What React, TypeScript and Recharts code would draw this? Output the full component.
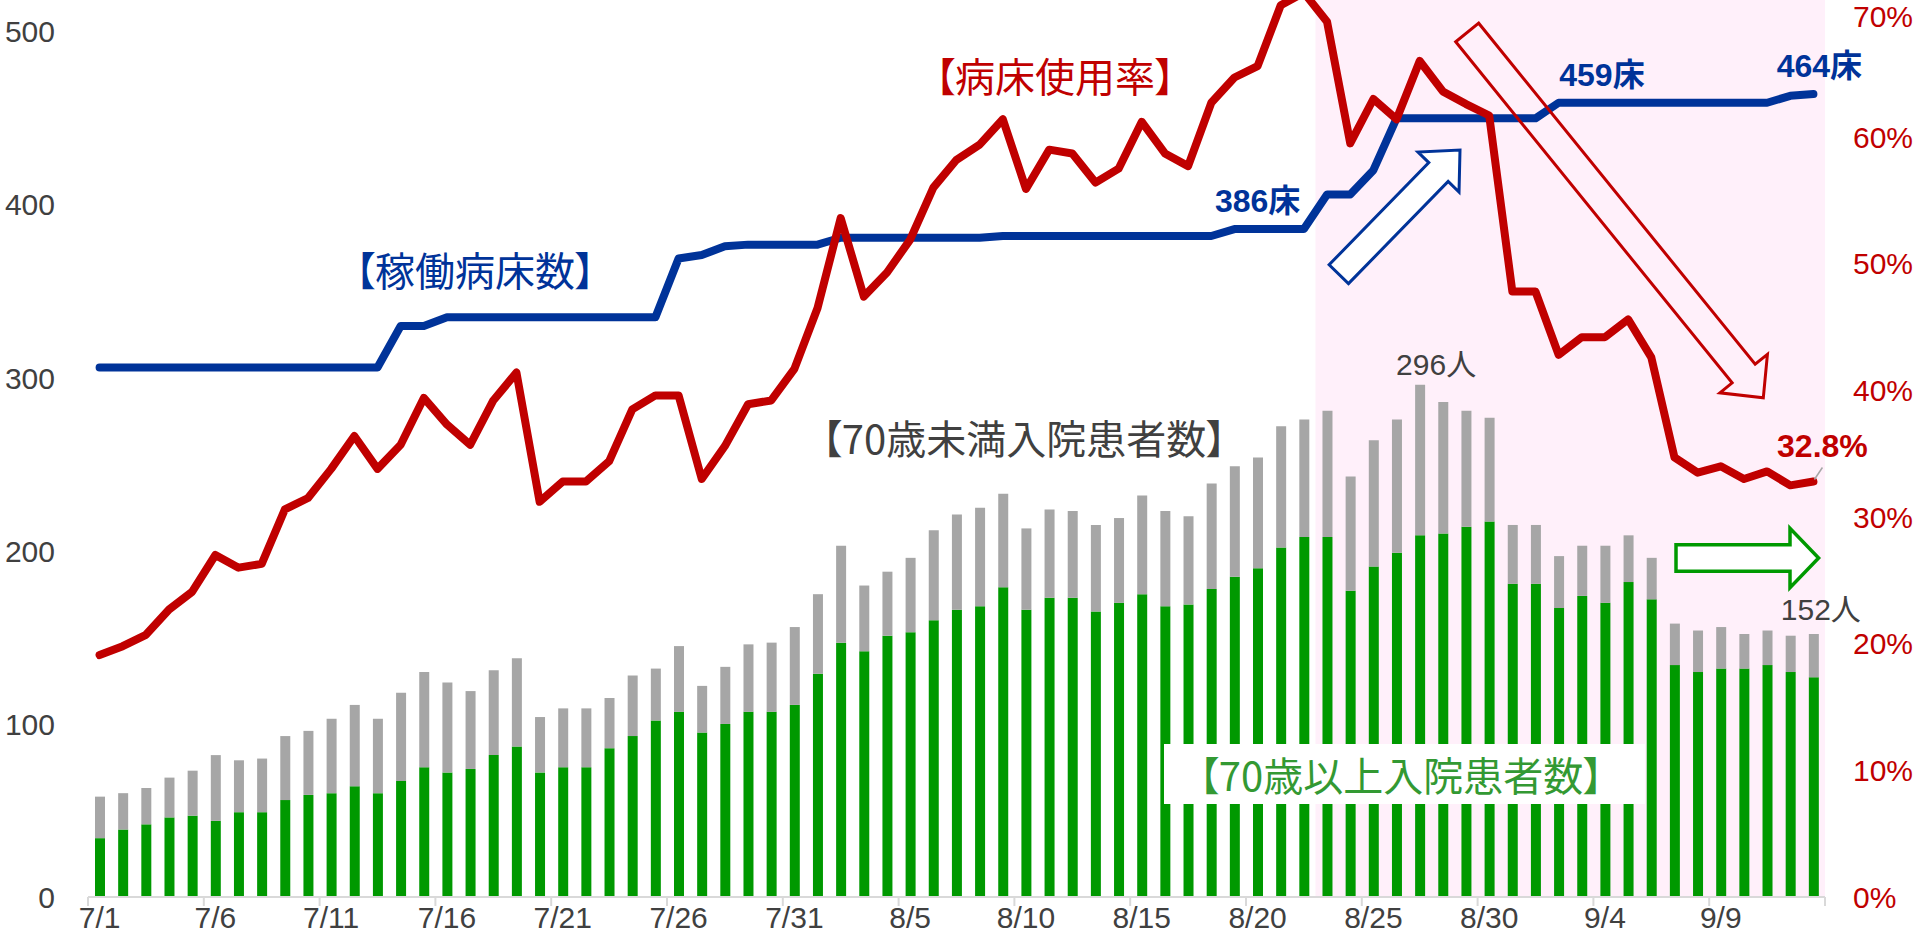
import React from 'react';
import { ComposedChart, Bar, Line, XAxis, YAxis, ReferenceArea, LabelList } from 'recharts';

// ---------- data ----------
const dates = [
  '7/1','7/2','7/3','7/4','7/5','7/6','7/7','7/8','7/9','7/10','7/11','7/12','7/13','7/14','7/15','7/16',
  '7/17','7/18','7/19','7/20','7/21','7/22','7/23','7/24','7/25','7/26','7/27','7/28','7/29','7/30','7/31',
  '8/1','8/2','8/3','8/4','8/5','8/6','8/7','8/8','8/9','8/10','8/11','8/12','8/13','8/14','8/15','8/16',
  '8/17','8/18','8/19','8/20','8/21','8/22','8/23','8/24','8/25','8/26','8/27','8/28','8/29','8/30','8/31',
  '9/1','9/2','9/3','9/4','9/5','9/6','9/7','9/8','9/9','9/10','9/11','9/12','9/13',
];

// 70歳以上入院患者数 (green)
const over70 = [
  34, 39, 42, 46, 47, 44, 49, 49, 56, 59, 60, 64, 60, 67, 75, 72,
  74, 82, 87, 72, 75, 75, 86, 93, 102, 107, 95, 100, 107, 107, 111,
  129, 147, 142, 151, 153, 160, 166, 168, 179, 166, 173, 173, 165, 170, 175, 168,
  169, 178, 185, 190, 202, 208, 208, 177, 191, 199, 209, 210, 214, 217, 181,
  181, 167, 174, 170, 182, 172, 134, 130, 132, 132, 134, 130, 127,
];

// 70歳未満入院患者数 (gray)
const under70 = [
  24, 21, 21, 23, 26, 38, 30, 31, 37, 37, 43, 47, 43, 51, 55, 52,
  45, 49, 51, 32, 34, 34, 29, 35, 30, 38, 27, 33, 39, 40, 45,
  46, 56, 38, 37, 43, 52, 55, 57, 54, 47, 51, 50, 50, 49, 57, 55,
  51, 61, 64, 64, 70, 68, 73, 66, 73, 77, 87, 76, 67, 60, 34,
  34, 30, 29, 33, 27, 24, 24, 24, 24, 20, 20, 21, 25,
];

// 稼働病床数 (blue, left axis)
const beds = [
  306, 306, 306, 306, 306, 306, 306, 306, 306, 306, 306, 306, 306, 330, 330, 335,
  335, 335, 335, 335, 335, 335, 335, 335, 335, 369, 371, 376, 377, 377, 377,
  377, 381, 381, 381, 381, 381, 381, 381, 382, 382, 382, 382, 382, 382, 382, 382,
  382, 382, 386, 386, 386, 386, 406, 406, 420, 450, 450, 450, 450, 450, 450,
  450, 459, 459, 459, 459, 459, 459, 459, 459, 459, 459, 463, 464,
];

// 病床使用率 (red, right axis, %)
const usageRate = [
  19.1, 19.8, 20.7, 22.7, 24.1, 27.0, 26.0, 26.3, 30.6, 31.5, 33.8, 36.4, 33.8, 35.7, 39.4, 37.3,
  35.7, 39.2, 41.4, 31.2, 32.8, 32.8, 34.4, 38.5, 39.6, 39.6, 33.0, 35.6, 38.9, 39.2, 41.7,
  46.5, 53.6, 47.4, 49.3, 51.9, 56.0, 58.2, 59.4, 61.4, 55.9, 59.0, 58.7, 56.4, 57.5, 61.2, 58.7,
  57.7, 62.7, 64.7, 65.6, 70.4, 71.4, 69.1, 59.5, 63.0, 61.4, 66.0, 63.6, 62.6, 61.7, 47.8,
  47.8, 42.8, 44.2, 44.2, 45.6, 42.6, 34.7, 33.5, 34.0, 33.0, 33.6, 32.5, 32.8,
];

const leftTicks = [0, 100, 200, 300, 400, 500];
const rightTicks = [0, 10, 20, 30, 40, 50, 60, 70];

const highlightStart = '8/23';
const highlightEnd = '9/13';

const labelBedsCat = ['8/20', '9/4', '9/13'];
const labelRateCat = ['9/13'];
const labelTotalCat = ['8/27', '9/13'];

// ---------- layout ----------
const W = 1920;
const H = 1000;
const TOP = -53;
const LEFT_W = 88;
const RIGHT_W = 95;
const XAXIS_H = 50;
const BAND = (W - LEFT_W - RIGHT_W) / dates.length;

const BLUE = '#003399';
const RED = '#c00000';
const GREEN = '#009900';
const GRAY = '#a6a6a6';
const TXT = '#404040';

const latin = '"Liberation Sans", Arial, "Noto Sans CJK JP", sans-serif';
const jp = '"Noto Sans CJK JP", "Noto Sans CJK SC", sans-serif';

const data = dates.map((d, i) => ({
  d,
  over70: over70[i],
  under70: under70[i],
  beds: beds[i],
  rate: usageRate[i],
}));

function XTick(props: any) {
  const { x, y, payload } = props;
  const left = x - BAND / 2;
  const isLast = payload.value === dates[70];
  return (
    <g>
      <line x1={left} y1={y} x2={left} y2={y + 9} stroke="#d9d9d9" strokeWidth={2} />
      {isLast && (
        <line x1={x + BAND * 4.5} y1={y} x2={x + BAND * 4.5} y2={y + 9} stroke="#d9d9d9" strokeWidth={2} />
      )}
      <text x={x} y={y + 31} textAnchor="middle" fontSize={30} fill={TXT} fontFamily={latin}>
        {payload.value}
      </text>
    </g>
  );
}

// right-axis tick: keep the topmost label inside the visible page (the chart top is off-screen)
function RightTick(props: any) {
  const { x, y, payload } = props;
  const minY = -TOP + 16;
  const cy = Math.max(Number(y), minY);
  return (
    <text x={x} y={cy} textAnchor="start" dominantBaseline="central" fontSize={30} fill={RED} fontFamily={latin}>
      {`${payload.value}%`}
    </text>
  );
}

function px(props: any) {
  const x = props.x ?? props.viewBox?.x ?? 0;
  const y = props.y ?? props.viewBox?.y ?? 0;
  return { x: Number(x), y: Number(y) };
}

const bedOffsets: Record<string, number> = { '8/20': 0, '9/4': -3, '9/13': 6 };

function BedLabel(props: any) {
  const { index, value } = props;
  const cat = dates[index];
  if (!labelBedsCat.includes(cat)) return <g />;
  const { x, y } = px(props);
  return (
    <text
      x={x + bedOffsets[cat]}
      y={y - 28}
      textAnchor="middle"
      dominantBaseline="central"
      fontSize={32}
      fontWeight="bold"
      fill={BLUE}
      fontFamily={latin}
    >
      {value}床
    </text>
  );
}

function RateLabel(props: any) {
  const { index, value } = props;
  const cat = dates[index];
  if (!labelRateCat.includes(cat)) return <g />;
  const { x, y } = px(props);
  return (
    <g>
      <line x1={x + 9} y1={y - 14} x2={x + 1} y2={y - 2} stroke="#a6a6a6" strokeWidth={1.5} />
      <text
        x={x + 9}
        y={y - 36}
        textAnchor="middle"
        dominantBaseline="central"
        fontSize={32}
        fontWeight="bold"
        fill={RED}
        fontFamily={latin}
      >
        {Number(value).toFixed(1)}%
      </text>
    </g>
  );
}

const totalOffsets: Record<string, [number, number]> = { '8/27': [16, -20], '9/13': [7, -24] };

function TotalLabel(props: any) {
  const { index } = props;
  const cat = dates[index];
  if (!labelTotalCat.includes(cat)) return <g />;
  const x = Number(props.x ?? props.viewBox?.x ?? 0);
  const y = Number(props.y ?? props.viewBox?.y ?? 0);
  const w = Number(props.width ?? props.viewBox?.width ?? 0);
  const total = over70[index] + under70[index];
  const [dx, dy] = totalOffsets[cat];
  return (
    <text
      x={x + w / 2 + dx}
      y={y + dy}
      textAnchor="middle"
      dominantBaseline="central"
      fontSize={30}
      fill={TXT}
      fontFamily={latin}
    >
      {total}人
    </text>
  );
}

function arrow(
  tail: [number, number],
  tip: [number, number],
  shaftHalf: number,
  headHalf: number,
  headLen: number,
) {
  const dx = tip[0] - tail[0];
  const dy = tip[1] - tail[1];
  const len = Math.hypot(dx, dy);
  const ux = dx / len;
  const uy = dy / len;
  const nx = -uy;
  const ny = ux;
  const b = len - headLen;
  const p = (a: number, n: number) => `${tail[0] + ux * a + nx * n},${tail[1] + uy * a + ny * n}`;
  return [p(0, shaftHalf), p(b, shaftHalf), p(b, headHalf), p(len, 0), p(b, -headHalf), p(b, -shaftHalf), p(0, -shaftHalf)].join(' ');
}

function Overlay() {
  const jpStyle: React.CSSProperties = { fontFeatureSettings: '"palt"' };
  return (
    <svg
      width={W}
      height={949}
      style={{ position: 'absolute', left: 0, top: 0, pointerEvents: 'none' }}
    >
      <text x={475} y={269} textAnchor="middle" dominantBaseline="central" fontSize={40} fill={BLUE} fontFamily={jp} style={jpStyle}>
        【稼働病床数】
      </text>
      <text x={1055} y={75} textAnchor="middle" dominantBaseline="central" fontSize={40} fill={RED} fontFamily={jp} style={jpStyle}>
        【病床使用率】
      </text>
      <text x={1024} y={437} textAnchor="middle" dominantBaseline="central" fontSize={40} fill={TXT} fontFamily={jp} style={jpStyle}>
        【70歳未満入院患者数】
      </text>
      <rect x={1164} y={744} width={481} height={60} fill="#ffffff" />
      <text x={1401} y={774} textAnchor="middle" dominantBaseline="central" fontSize={40} fill="#339933" fontFamily={jp} style={jpStyle}>
        【70歳以上入院患者数】
      </text>
      <polygon
        points={arrow([1338.8, 274.2], [1460, 150], 13.5, 28.7, 30.8)}
        fill="#ffffff"
        stroke={BLUE}
        strokeWidth={3}
      />
      <polygon
        points={arrow([1467.2, 32.5], [1763.3, 397.8], 14.8, 30.6, 31.2)}
        fill="none"
        stroke={RED}
        strokeWidth={3}
      />
      <polygon
        points={arrow([1676, 558], [1818.6, 558], 13.3, 29.7, 28.6)}
        fill="#ffffff"
        stroke={GREEN}
        strokeWidth={3.5}
      />
    </svg>
  );
}

export default function App() {
  return (
    <div style={{ position: 'absolute', left: 0, top: 0, width: W, height: 949, overflow: 'hidden' }}>
      <div style={{ position: 'absolute', left: 0, top: TOP }}>
        <ComposedChart width={W} height={H} data={data} margin={{ top: 0, right: 0, bottom: 0, left: 0 }}>
          <ReferenceArea
            x1={highlightStart}
            x2={highlightEnd}
            yAxisId="left"
            y1={0}
            y2={549}
            fill="#fff0fa"
            fillOpacity={1}
            stroke="none"
            ifOverflow="visible"
          />
          <XAxis
            dataKey="d"
            interval={4}
            height={XAXIS_H}
            tickSize={0}
            tickMargin={0}
            tickLine={false}
            axisLine={{ stroke: '#d9d9d9', strokeWidth: 2 }}
            tick={<XTick />}
          />
          <YAxis
            yAxisId="left"
            orientation="left"
            width={LEFT_W}
            domain={[0, 549]}
            ticks={leftTicks}
            allowDataOverflow
            axisLine={false}
            tickLine={false}
            tickSize={0}
            tickMargin={33}
            tick={{ fontSize: 30, fill: TXT, fontFamily: latin }}
          />
          <YAxis
            yAxisId="right"
            orientation="right"
            width={RIGHT_W}
            domain={[0, 75]}
            ticks={rightTicks}
            allowDataOverflow
            axisLine={false}
            tickLine={false}
            tickSize={0}
            tickMargin={28}
            tick={<RightTick />}
          />
          <Bar dataKey="over70" stackId="p" yAxisId="left" fill={GREEN} barSize={10} isAnimationActive={false} />
          <Bar dataKey="under70" stackId="p" yAxisId="left" fill={GRAY} barSize={10} isAnimationActive={false}>
            <LabelList dataKey="under70" content={TotalLabel} />
          </Bar>
          <Line
            dataKey="beds"
            yAxisId="left"
            stroke={BLUE}
            strokeWidth={8}
            dot={false}
            strokeLinejoin="round"
            strokeLinecap="round"
            isAnimationActive={false}
          >
            <LabelList dataKey="beds" content={BedLabel} />
          </Line>
          <Line
            dataKey="rate"
            yAxisId="right"
            stroke={RED}
            strokeWidth={8}
            dot={false}
            strokeLinejoin="round"
            strokeLinecap="round"
            isAnimationActive={false}
          >
            <LabelList dataKey="rate" content={RateLabel} />
          </Line>
        </ComposedChart>
      </div>
      <Overlay />
    </div>
  );
}
